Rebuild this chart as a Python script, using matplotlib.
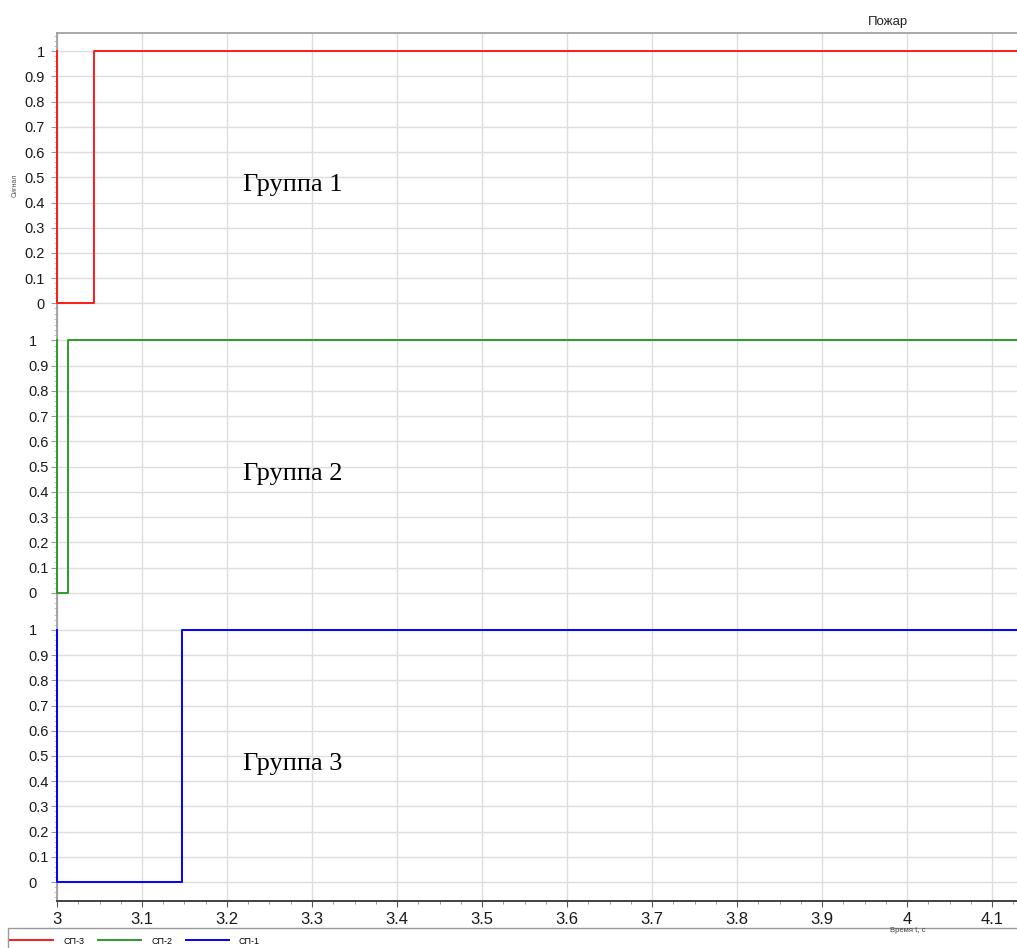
import matplotlib
matplotlib.use("Agg")
import matplotlib.pyplot as plt
from matplotlib.ticker import MultipleLocator
from matplotlib.patches import Rectangle

# Data
series_names = ["СП-3", "СП-2", "СП-1"]
group_labels = ["Группа 1", "Группа 2", "Группа 3"]
colors = ["#ff1a1a", "#2e9a2e", "#0000ff"]
t_sp3 = [2.9995, 3.0005, 3.0435, 4.2]
v_sp3 = [1, 0, 1, 1]
t_sp2 = [2.9995, 3.0005, 3.0125, 4.2]
v_sp2 = [1, 0, 1, 1]
t_sp1 = [2.9995, 3.0005, 3.147, 4.2]
v_sp1 = [1, 0, 1, 1]
times = [t_sp3, t_sp2, t_sp1]
values = [v_sp3, v_sp2, v_sp1]
x_ticks = [3.0, 3.1, 3.2, 3.3, 3.4, 3.5, 3.6, 3.7, 3.8, 3.9, 4.0, 4.1]
x_tick_labels = ["3", "3.1", "3.2", "3.3", "3.4", "3.5", "3.6", "3.7", "3.8", "3.9", "4", "4.1"]
y_ticks = [0, 0.1, 0.2, 0.3, 0.4, 0.5, 0.6, 0.7, 0.8, 0.9, 1.0]
y_tick_labels = ["0", "0.1", "0.2", "0.3", "0.4", "0.5", "0.6", "0.7", "0.8", "0.9", "1"]

plt.rcParams['font.family'] = ['Liberation Sans', 'DejaVu Sans']

fig = plt.figure(figsize=(10.17, 9.48), dpi=100)
W, H = 1017, 948
left, right = 57 / W, 1.0
top, bottom = 1 - 33 / H, 1 - 901 / H
axes = fig.subplots(3, 1, sharex=True, gridspec_kw=dict(hspace=0))
fig.subplots_adjust(left=left, right=right, top=top, bottom=bottom)

x_min, x_max = 3.0, 3.0 + 960 / 850

for i, ax in enumerate(axes):
    ax.plot(times[i], values[i], drawstyle='steps-post', color=colors[i], lw=1.4,
            label=series_names[i], zorder=5, clip_on=False)
    ax.set_xlim(x_min, x_max)
    ax.set_ylim(-0.075, 1.072)
    ax.set_yticks(y_ticks)
    ax.yaxis.set_minor_locator(MultipleLocator(0.02))
    ax.xaxis.set_minor_locator(MultipleLocator(0.025))
    ax.set_xticks(x_ticks)
    ax.grid(True, which='major', color='#dddddd', lw=1.0, zorder=0)
    for s in ['top', 'right', 'bottom']:
        ax.spines[s].set_visible(False)
    ax.spines['left'].set_color('#999999')
    ax.spines['left'].set_linewidth(1.2)
    ax.spines['left'].set_zorder(2)
    ax.tick_params(axis='y', which='major', length=4, color='#999999', labelsize=10.5,
                   labelcolor='#1a1a1a')
    ax.tick_params(axis='y', which='minor', length=2, color='#bbbbbb')
    ax.text(3.0 + (243 - 57) / 850, 0.47, group_labels[i], family=['Liberation Serif'],
            fontsize=19, va='center', ha='left', color='black')
    if i == 0:
        ax.set_yticklabels(y_tick_labels)
        ax.tick_params(axis='y', which='major', pad=5)
        ax.spines['top'].set_visible(True)
        ax.spines['top'].set_color('#999999')
        ax.spines['top'].set_linewidth(1.2)
    else:
        ax.set_yticklabels(y_tick_labels, ha='left')
        ax.tick_params(axis='y', which='major', pad=16.5)
    if i < 2:
        ax.tick_params(axis='x', which='both', length=0, labelbottom=False)

ax = axes[2]
ax.spines['bottom'].set_visible(True)
ax.spines['bottom'].set_color('#333333')
ax.spines['bottom'].set_linewidth(1.3)
ax.set_xticklabels(x_tick_labels)
ax.tick_params(axis='x', which='major', length=4, color='#555555', labelsize=12,
               labelcolor='#1a1a1a', pad=4)
ax.tick_params(axis='x', which='minor', length=2, color='#888888')

fig.text(888 / W, 1 - 22 / H, "Пожар", fontsize=9.5, ha='center', va='center', color='#222222')
fig.text(15 / W, 1 - 185 / H, "Сигнал", fontsize=5, rotation=90, ha='center', va='center',
         color='#555555')
fig.text(908 / W, 1 - 931 / H, "Время t, с", fontsize=5.5, ha='center', va='center',
         color='#444444')

# Legend box
fig.add_artist(Rectangle((8 / W, -0.01), 1.2, (948 - 928) / H + 0.01,
                         transform=fig.transFigure, fill=False, edgecolor='#999999', lw=1.0))
handles = [a.get_lines()[0] for a in axes]
fig.legend(handles, series_names, loc='center left', bbox_to_anchor=(10 / W, 1 - 941 / H),
           ncol=3, frameon=False, fontsize=6.5, handlelength=4.8, columnspacing=1.5,
           handletextpad=1.1, borderaxespad=0, borderpad=0)

fig.savefig("out.png", dpi=100)
